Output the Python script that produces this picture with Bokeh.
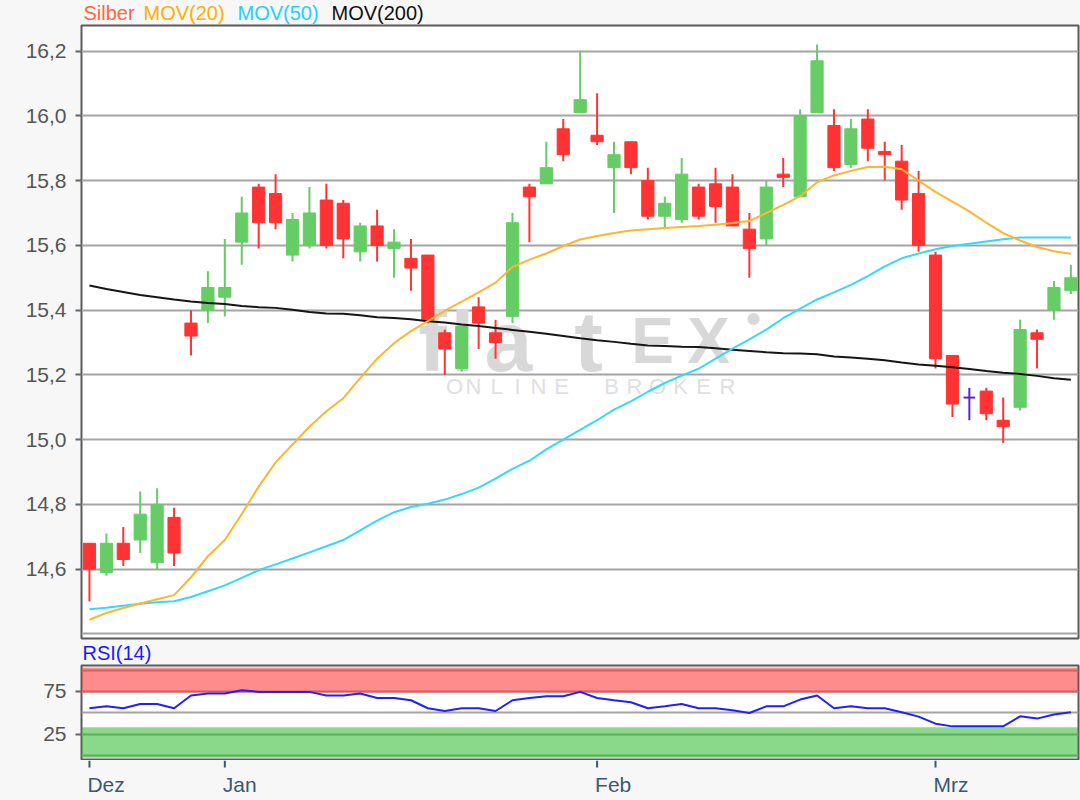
from bokeh.plotting import figure
from bokeh.models import (Range1d, FixedTicker, Label, ColumnDataSource,
                          BoxAnnotation, CustomJSTickFormatter)
from bokeh.layouts import column
from bokeh.core.properties import value
from bokeh.embed import file_html
from bokeh.resources import INLINE

# ---------------- data ----------------
IDX = list(range(59))
OPEN = [14.68, 14.59, 14.68, 14.69, 14.62, 14.76, 15.36, 15.40, 15.44, 15.61,
        15.78, 15.76, 15.57, 15.60, 15.74, 15.73, 15.58, 15.66, 15.59, 15.56,
        15.57, 15.33, 15.22, 15.41, 15.33, 15.38, 15.78, 15.79, 15.96, 16.01,
        15.94, 15.84, 15.92, 15.80, 15.69, 15.68, 15.78, 15.79, 15.78, 15.65,
        15.62, 15.82, 15.75, 16.01, 15.97, 15.85, 15.99, 15.89, 15.86, 15.76,
        15.57, 15.26, 15.13, 15.15, 15.06, 15.10, 15.33, 15.40, 15.46]
HIGH = [14.68, 14.71, 14.73, 14.84, 14.85, 14.79, 15.40, 15.52, 15.62, 15.75,
        15.79, 15.82, 15.70, 15.78, 15.79, 15.74, 15.67, 15.71, 15.65, 15.62,
        15.57, 15.34, 15.35, 15.44, 15.37, 15.70, 15.79, 15.92, 15.99, 16.20,
        16.07, 15.92, 15.92, 15.84, 15.75, 15.87, 15.79, 15.84, 15.82, 15.70,
        15.80, 15.87, 16.02, 16.22, 16.02, 15.99, 16.02, 15.92, 15.91, 15.83,
        15.58, 15.26, 15.16, 15.16, 15.13, 15.37, 15.34, 15.49, 15.54]
LOW = [14.50, 14.58, 14.61, 14.65, 14.60, 14.61, 15.26, 15.36, 15.38, 15.54,
       15.59, 15.65, 15.55, 15.59, 15.59, 15.56, 15.55, 15.55, 15.50, 15.46,
       15.36, 15.20, 15.21, 15.28, 15.25, 15.36, 15.61, 15.79, 15.86, 16.01,
       15.91, 15.70, 15.82, 15.68, 15.65, 15.67, 15.68, 15.67, 15.66, 15.50,
       15.60, 15.78, 15.75, 16.01, 15.83, 15.84, 15.86, 15.80, 15.71, 15.58,
       15.22, 15.07, 15.06, 15.06, 14.99, 15.09, 15.22, 15.37, 15.45]
CLOSE = [14.60, 14.68, 14.63, 14.77, 14.80, 14.65, 15.32, 15.47, 15.47, 15.70,
         15.67, 15.67, 15.68, 15.70, 15.60, 15.62, 15.66, 15.60, 15.61, 15.53,
         15.37, 15.28, 15.35, 15.36, 15.30, 15.67, 15.75, 15.84, 15.88, 16.05,
         15.92, 15.88, 15.84, 15.69, 15.73, 15.82, 15.69, 15.72, 15.66, 15.59,
         15.78, 15.81, 16.00, 16.17, 15.84, 15.96, 15.90, 15.88, 15.74, 15.60,
         15.25, 15.11, 15.13, 15.08, 15.04, 15.34, 15.31, 15.47, 15.50]
MOV20 = [14.444, 14.465, 14.480, 14.494, 14.507, 14.520, 14.575, 14.640, 14.690, 14.770,
         14.855, 14.930, 14.985, 15.040, 15.088, 15.128, 15.190, 15.250, 15.298, 15.335,
         15.366, 15.398, 15.426, 15.455, 15.485, 15.533, 15.556, 15.575, 15.598, 15.618,
         15.629, 15.638, 15.646, 15.650, 15.654, 15.657, 15.660, 15.664, 15.669, 15.675,
         15.700, 15.725, 15.752, 15.795, 15.816, 15.830, 15.842, 15.843, 15.835, 15.800,
         15.765, 15.735, 15.705, 15.670, 15.638, 15.615, 15.595, 15.582, 15.574]
MOV50 = [14.476, 14.481, 14.487, 14.493, 14.498, 14.501, 14.514, 14.532, 14.550, 14.573,
         14.597, 14.615, 14.633, 14.652, 14.671, 14.690, 14.720, 14.750, 14.776, 14.792,
         14.802, 14.815, 14.832, 14.852, 14.880, 14.910, 14.935, 14.970, 15.000, 15.030,
         15.060, 15.093, 15.118, 15.148, 15.175, 15.198, 15.219, 15.250, 15.281, 15.310,
         15.340, 15.375, 15.405, 15.433, 15.455, 15.478, 15.505, 15.535, 15.560, 15.575,
         15.588, 15.598, 15.605, 15.612, 15.619, 15.624, 15.624, 15.624, 15.624]
MOV200 = [15.476, 15.465, 15.456, 15.447, 15.440, 15.433, 15.427, 15.422, 15.419, 15.413,
          15.409, 15.407, 15.401, 15.394, 15.390, 15.389, 15.384, 15.378, 15.376, 15.372,
          15.366, 15.362, 15.356, 15.351, 15.345, 15.339, 15.333, 15.327, 15.320, 15.313,
          15.307, 15.302, 15.296, 15.291, 15.289, 15.287, 15.286, 15.282, 15.278, 15.274,
          15.270, 15.267, 15.266, 15.264, 15.257, 15.254, 15.250, 15.245, 15.238, 15.232,
          15.228, 15.224, 15.218, 15.212, 15.207, 15.203, 15.197, 15.190, 15.185]
RSI = [55.3, 57.6, 55.3, 60.4, 60.4, 55.3, 70.2, 72.6, 72.6, 76.5,
       74.5, 74.5, 74.5, 74.5, 70.2, 70.2, 72.6, 67.4, 67.4, 64.7,
       55.3, 52.1, 55.3, 55.3, 52.1, 64.7, 67.4, 69.4, 69.4, 74.5,
       67.4, 64.7, 62.4, 55.3, 57.6, 60.4, 55.3, 55.3, 52.9, 49.8,
       57.6, 57.6, 65.5, 70.2, 55.3, 57.6, 55.3, 55.3, 50.6, 45.5,
       37.3, 34.1, 34.1, 34.1, 34.1, 45.9, 43.2, 47.9, 50.6]

PRICE_TICKS = [14.6, 14.8, 15.0, 15.2, 15.4, 15.6, 15.8, 16.0, 16.2]
PRICE_GRID = [14.4, 14.6, 14.8, 15.0, 15.2, 15.4, 15.6, 15.8, 16.0, 16.2]
RSI_TICKS = [25, 75]
RSI_GRID = [0, 25, 50, 75, 100]
RSI_OVERBOUGHT = (73.5, 103.0)
RSI_OVERSOLD = (-2.6, 33.0)
MONTH_TICKS = [0, 8, 30, 50]
MONTH_LABELS = ["Dez", "Jan", "Feb", "Mrz"]
TITLE_PARTS = ["Silber", "MOV(20)", "MOV(50)", "MOV(200)"]
TITLE_COLORS = ["#ff6640", "#ffb000", "#22d0ff", "#111111"]

# ---------------- styling / geometry ----------------
FONT = "Liberation Sans"
UP, DOWN, DOJI = "#66cc66", "#ff3333", "#5b22d6"
BG = "#f7f7f7"
X0, X1 = -0.47, 58.45
Y0, Y1 = 14.386, 16.279
W = 1080
FRAME_L, FRAME_R = 81, 2
TITLE_H = 24
MAIN_H, MAIN_TOP, MAIN_BOT = 616, 1, 2
RSILAB_H = 24
RSI_H = 96
MONTH_H = 40
frame_w = W - FRAME_L - FRAME_R
frame_h = MAIN_H - MAIN_TOP - MAIN_BOT


def px2x(px):  # page pixel -> data x (decorations only)
    return X0 + (px - FRAME_L) * (X1 - X0) / frame_w


def py2y(py):  # page pixel -> price (decorations only)
    return Y1 - (py - TITLE_H - MAIN_TOP) * (Y1 - Y0) / frame_h


X_RANGE = Range1d(X0, X1)


def strip(height):
    # a borderless band whose frame shares the chart's x mapping; y is in pixels (down)
    f = figure(width=W, height=height, x_range=X_RANGE, y_range=Range1d(height, 0),
               output_backend="svg", toolbar_location=None,
               x_axis_location=None, y_axis_location=None,
               min_border_left=FRAME_L, min_border_right=FRAME_R,
               min_border_top=0, min_border_bottom=0,
               background_fill_color=BG, border_fill_color=BG,
               outline_line_color=None)
    f.grid.visible = False
    return f


colors = [UP if c > o else (DOWN if c < o else DOJI) for o, c in zip(OPEN, CLOSE)]
src = ColumnDataSource(dict(x=IDX, high=HIGH, low=LOW, color=colors))
body = [i for i in IDX if OPEN[i] != CLOSE[i]]
doji = [i for i in IDX if OPEN[i] == CLOSE[i]]
body_src = ColumnDataSource(dict(
    x=[IDX[i] for i in body],
    top=[max(OPEN[i], CLOSE[i]) for i in body],
    bottom=[min(OPEN[i], CLOSE[i]) for i in body],
    color=[colors[i] for i in body]))
doji_src = ColumnDataSource(dict(
    x0=[IDX[i] - 0.34 for i in doji], x1=[IDX[i] + 0.34 for i in doji],
    y=[OPEN[i] for i in doji]))

# ---------------- title strip ----------------
t = strip(TITLE_H)
t.text(x=[px2x(v) for v in (83, 143, 237, 331)], y=[12.8] * 4, text=TITLE_PARTS,
       text_color=TITLE_COLORS, text_font=value(FONT), text_font_size="20px",
       text_align="left", text_baseline="middle")

# ---------------- main price chart ----------------
p = figure(width=W, height=MAIN_H, x_range=X_RANGE, y_range=Range1d(Y0, Y1),
           output_backend="svg", toolbar_location=None, x_axis_location=None,
           min_border_left=FRAME_L, min_border_right=FRAME_R,
           min_border_top=MAIN_TOP, min_border_bottom=MAIN_BOT,
           background_fill_color="white", border_fill_color=BG,
           outline_line_color="#5a5a5a", outline_line_width=2)
p.xgrid.grid_line_color = None
p.ygrid.ticker = FixedTicker(ticks=PRICE_GRID)
p.ygrid.grid_line_color = "#a4a4a4"
p.ygrid.grid_line_width = 2
ya = p.yaxis[0]
ya.ticker = FixedTicker(ticks=PRICE_TICKS)
ya.formatter = CustomJSTickFormatter(code="return tick.toFixed(1).replace('.', ',');")
ya.axis_line_color = None
ya.major_tick_line_color = "#666666"
ya.major_tick_line_width = 2
ya.major_tick_out = 6
ya.major_tick_in = 0
ya.minor_tick_line_color = None
ya.major_label_standoff = 9
ya.major_label_text_font = FONT
ya.major_label_text_font_size = "21px"
ya.major_label_text_color = "#555555"

# watermark
WM_COLOR = "#d8d8d8"
for ch, px, size in [("f", 432, "86px"), ("l", 462, "86px"), ("a", 508, "86px"),
                     ("t", 588, "86px"), ("E", 652, "64px"), ("X", 708, "64px")]:
    p.add_layout(Label(x=px2x(px), y=py2y(340), text=ch, text_align="center",
                       text_baseline="alphabetic", text_font=FONT,
                       text_font_style="bold", text_font_size=size,
                       text_color=WM_COLOR, level="underlay"))
p.add_layout(Label(x=px2x(753), y=py2y(318), text="•", text_align="center",
                   text_baseline="middle", text_font=FONT, text_font_size="44px",
                   text_color=WM_COLOR, level="underlay"))
for ch, px in zip("ONLINEBROKER", [454, 473, 496, 517, 538, 561, 611, 634, 657, 680, 703, 727]):
    p.add_layout(Label(x=px2x(px), y=py2y(386), text=ch, text_align="center",
                       text_baseline="alphabetic", text_font=FONT,
                       text_font_size="22px", text_color="#e0e0e0", level="underlay"))

# candles
p.segment(x0="x", y0="low", x1="x", y1="high", source=src, line_color="color", line_width=2)
p.vbar(x="x", width=0.72, top="top", bottom="bottom", source=body_src,
       fill_color="color", line_color="color", line_width=1)
p.segment(x0="x0", y0="y", x1="x1", y1="y", source=doji_src, line_color=DOJI, line_width=2)

# moving averages
p.line(IDX, MOV200, line_color="#151515", line_width=2)
p.line(IDX, MOV50, line_color="#33d8ff", line_width=2)
p.line(IDX, MOV20, line_color="#ffb52e", line_width=2)

# ---------------- RSI label strip ----------------
rl = strip(RSILAB_H)
rl.text(x=[px2x(82)], y=[12.8], text=["RSI(14)"], text_color="#1a1aff",
        text_font=value(FONT), text_font_size="20px",
        text_align="left", text_baseline="middle")

# ---------------- RSI panel ----------------
R0, R1 = -4.7, 105.4
q = figure(width=W, height=RSI_H, x_range=X_RANGE, y_range=Range1d(R0, R1),
           output_backend="svg", toolbar_location=None, x_axis_location=None,
           min_border_left=FRAME_L, min_border_right=FRAME_R,
           min_border_top=1, min_border_bottom=1,
           background_fill_color="white", border_fill_color=BG,
           outline_line_color="#5a5a5a", outline_line_width=2)
q.xgrid.grid_line_color = None
q.ygrid.ticker = FixedTicker(ticks=RSI_GRID)
q.ygrid.grid_line_color = "#a4a4a4"
q.ygrid.grid_line_width = 2
q.add_layout(BoxAnnotation(bottom=RSI_OVERBOUGHT[0], top=RSI_OVERBOUGHT[1],
                           fill_color="#ff1a1a", fill_alpha=0.5, line_color=None,
                           level="underlay"))
q.add_layout(BoxAnnotation(bottom=RSI_OVERSOLD[0], top=RSI_OVERSOLD[1],
                           fill_color="#16b416", fill_alpha=0.5, line_color=None,
                           level="underlay"))
q.line(IDX, RSI, line_color="#1f1fff", line_width=2)

qy = q.yaxis[0]
qy.ticker = FixedTicker(ticks=RSI_TICKS)
qy.axis_line_color = None
qy.major_tick_line_color = "#666666"
qy.major_tick_line_width = 2
qy.major_tick_out = 6
qy.major_tick_in = 0
qy.minor_tick_line_color = None
qy.major_label_standoff = 9
qy.major_label_text_font = FONT
qy.major_label_text_font_size = "21px"
qy.major_label_text_color = "#555555"

# ---------------- month axis strip (ticks + left-aligned names) ----------------
m = strip(MONTH_H)
m.segment(x0=MONTH_TICKS, y0=[0] * 4, x1=MONTH_TICKS, y1=[7] * 4,
          line_color="#3d5773", line_width=2)
m.text(x=MONTH_TICKS, y=[24.2] * 4, text=MONTH_LABELS, x_offset=-2,
       text_color="#3d5773", text_font=value(FONT), text_font_size="21px",
       text_align="left", text_baseline="middle")

layout = column(t, p, rl, q, m, spacing=0, background=BG)
open("out.html", "w").write(file_html(layout, INLINE))
